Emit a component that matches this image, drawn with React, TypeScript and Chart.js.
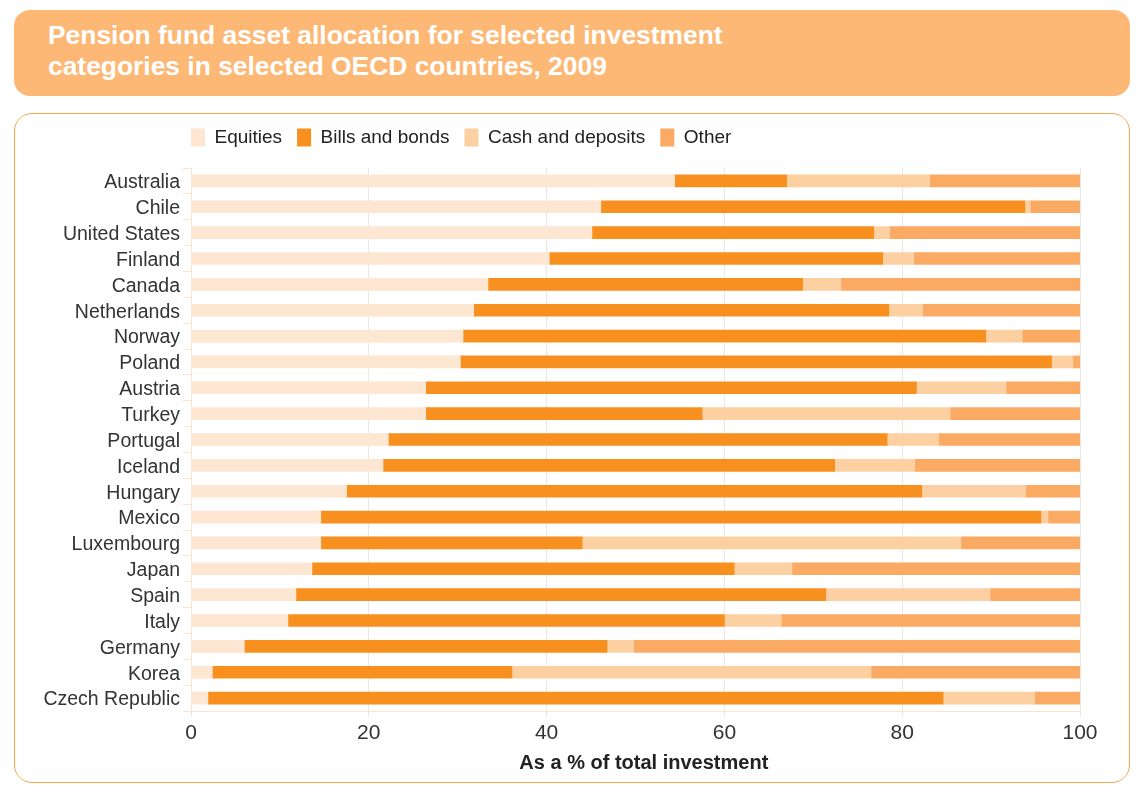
import React, { useEffect, useRef } from "react";
import { Chart, registerables } from "chart.js";

Chart.register(...registerables);

const countries = [
  "Australia", "Chile", "United States", "Finland", "Canada", "Netherlands", "Norway",
  "Poland", "Austria", "Turkey", "Portugal", "Iceland", "Hungary", "Mexico",
  "Luxembourg", "Japan", "Spain", "Italy", "Germany", "Korea", "Czech Republic",
];
const equities = [54.4, 46.1, 45.1, 40.3, 33.4, 31.8, 30.6, 30.3, 26.4, 26.4, 22.2, 21.6, 17.5, 14.6, 14.6, 13.6, 11.8, 10.9, 6.0, 2.4, 1.9];
const billsBonds = [12.6, 47.7, 31.7, 37.5, 35.4, 46.7, 58.8, 66.5, 55.2, 31.1, 56.1, 50.8, 64.7, 81.0, 29.4, 47.5, 59.6, 49.1, 40.8, 33.7, 82.7];
const cashDeposits = [16.1, 0.6, 1.8, 3.5, 4.3, 3.8, 4.1, 2.4, 10.1, 27.9, 5.8, 9.0, 11.7, 0.8, 42.6, 6.5, 18.5, 6.4, 3.0, 40.4, 10.3];
const other = [16.9, 5.6, 21.4, 18.7, 26.9, 17.7, 6.5, 0.8, 8.3, 14.6, 15.9, 18.6, 6.1, 3.6, 13.4, 32.4, 10.1, 33.6, 50.2, 23.5, 5.1];
const xTicks = [0, 20, 40, 60, 80, 100];

const FONT = "'Liberation Sans', Arial, Helvetica, sans-serif";
const COLORS = {
  equities: "#FDE6D2",
  bills: "#F7901E",
  cash: "#FDD0A2",
  other: "#FBAA63",
};

const legendShift = {
  id: "legendShift",
  afterLayout(chart: any) {
    const lg = chart.legend;
    if (!lg) return;
    const pad = lg.options.labels.padding;
    lg.left -= pad;
    lg.right -= pad;
    lg.top -= 11;
    lg.bottom -= 11;
  },
};

export default function App() {
  const ref = useRef<HTMLCanvasElement | null>(null);

  useEffect(() => {
    if (!ref.current) return;
    const chart = new Chart(ref.current, {
      type: "bar",
      data: {
        labels: countries,
        datasets: [
          { label: "Equities", data: equities, backgroundColor: COLORS.equities, barThickness: 12 },
          { label: "Bills and bonds", data: billsBonds, backgroundColor: COLORS.bills, barThickness: 12 },
          { label: "Cash and deposits", data: cashDeposits, backgroundColor: COLORS.cash, barThickness: 12 },
          { label: "Other", data: other, backgroundColor: COLORS.other, barThickness: 12 },
        ],
      },
      options: {
        indexAxis: "y",
        animation: false,
        responsive: false,
        maintainAspectRatio: false,
        layout: { padding: { top: 10, right: 49, bottom: 8, left: 0 } },
        plugins: {
          tooltip: { enabled: false },
          legend: {
            position: "top",
            align: "start",
            fullSize: false,
            labels: {
              boxWidth: 14,
              boxHeight: 18,
              padding: 15,
              color: "#222",
              font: { family: FONT, size: 19 },
            },
          },
        },
        scales: {
          x: {
            stacked: true,
            min: 0,
            max: 100,
            afterBuildTicks: (axis: any) => {
              axis.ticks = xTicks.map((v) => ({ value: v }));
            },
            grid: { color: "#EEE6DF", drawTicks: true, tickLength: 6, lineWidth: 1 },
            border: { display: true, color: "#FBE3CC" },
            ticks: { color: "#333", padding: 6, font: { family: FONT, size: 21, lineHeight: 1 } },
            title: {
              display: true,
              text: "   As a % of total investment",
              color: "#222",
              font: { family: FONT, size: 20, weight: "bold", lineHeight: 0.7 },
              padding: { top: 6, bottom: 4 },
            },
          },
          y: {
            stacked: true,
            afterFit: (axis: any) => {
              axis.width = 176;
            },
            grid: {
              offset: true,
              drawOnChartArea: false,
              drawTicks: true,
              tickLength: 8,
              color: "#FBE3CC",
            },
            border: { display: true, color: "#FBE3CC" },
            ticks: {
              color: "#333",
              padding: 3,
              autoSkip: false,
              labelOffset: 2,
              font: { family: FONT, size: 19.5, lineHeight: 1 },
            },
          },
        },
      },
      plugins: [legendShift],
    } as any);
    return () => chart.destroy();
  }, []);

  return (
    <div style={{ position: "absolute", left: 0, top: 0, width: 1143, height: 796, background: "#fff" }}>
      <div
        style={{
          position: "absolute",
          left: 14,
          top: 10,
          width: 1116,
          height: 86,
          background: "#FDB876",
          borderRadius: 16,
        }}
      >
        <div
          style={{
            position: "absolute",
            left: 34,
            top: 10,
            color: "#fff",
            fontFamily: FONT,
            fontWeight: "bold",
            fontSize: 26.4,
            lineHeight: "31px",
            whiteSpace: "nowrap",
          }}
        >
          Pension fund asset allocation for selected investment
          <br />
          categories in selected OECD countries, 2009
        </div>
      </div>
      <div
        style={{
          position: "absolute",
          left: 14,
          top: 113,
          width: 1116,
          height: 670,
          boxSizing: "border-box",
          border: "1.5px solid #F7A851",
          borderRadius: 18,
        }}
      />
      <canvas
        ref={ref}
        width={1114}
        height={668}
        style={{ position: "absolute", left: 15, top: 114, width: 1114, height: 668 }}
      />
    </div>
  );
}
